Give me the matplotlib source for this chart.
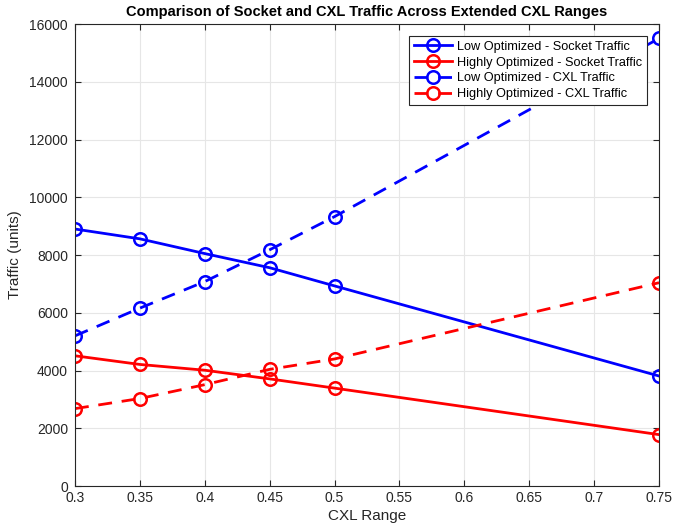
import matplotlib
matplotlib.use("Agg")
import matplotlib.pyplot as plt
import numpy as np

plt.rcParams['font.family'] = ['Liberation Sans', 'DejaVu Sans']

cxl_range = [0.3, 0.35, 0.4, 0.45, 0.5, 0.75]
low_socket = [8900, 8560, 8050, 7560, 6930, 3810]
high_socket = [4510, 4210, 4010, 3710, 3390, 1780]
low_cxl = [5200, 6160, 7080, 8180, 9330, 15500]
high_cxl = [2680, 3030, 3510, 4040, 4400, 7040]

x_ticks = [0.3, 0.35, 0.4, 0.45, 0.5, 0.55, 0.6, 0.65, 0.7, 0.75]
x_tick_labels = ['0.3', '0.35', '0.4', '0.45', '0.5', '0.55', '0.6', '0.65', '0.7', '0.75']
y_ticks = list(range(0, 16001, 2000))

fig = plt.figure(figsize=(6.73, 5.30), dpi=100)
ax = fig.add_axes([0.1114, 0.083, 0.8678, 0.8717])

kw = dict(linewidth=2, marker='o', markersize=9, markerfacecolor='none', markeredgewidth=1.8)
ax.plot(cxl_range, low_socket, '-', color='#0000ff', label='Low Optimized - Socket Traffic', **kw)
ax.plot(cxl_range, high_socket, '-', color='#ff0000', label='Highly Optimized - Socket Traffic', **kw)
ax.plot(cxl_range, low_cxl, '--', color='#0000ff', label='Low Optimized - CXL Traffic', dashes=(5, 3.5), **kw)
ax.plot(cxl_range, high_cxl, '--', color='#ff0000', label='Highly Optimized - CXL Traffic', dashes=(5, 3.5), **kw)

ax.set_xlim(0.3, 0.75)
ax.set_ylim(0, 16000)
ax.set_xticks(x_ticks)
ax.set_xticklabels(x_tick_labels)
ax.set_yticks(y_ticks)
ax.tick_params(direction='in', labelsize=10, colors='#262626', length=4, top=True, right=True)
ax.tick_params(labeltop=False, labelright=False)
ax.tick_params(axis='y', pad=5)
for s in ax.spines.values():
    s.set_color('#262626')
    s.set_linewidth(0.8)
ax.grid(True, color='#e6e6e6', linewidth=0.8)
ax.set_axisbelow(True)

ax.set_xlabel('CXL Range', fontsize=11, color='#262626', labelpad=3)
ax.set_ylabel('Traffic (units)', fontsize=11, color='#262626', labelpad=5)
ax.set_title('Comparison of Socket and CXL Traffic Across Extended CXL Ranges', fontsize=10.5, fontweight='bold', pad=6)

leg = ax.legend(loc='upper right', bbox_to_anchor=(0.98, 0.975), fontsize=9.2, fancybox=False,
                edgecolor='#262626', framealpha=1, borderpad=0.4, labelspacing=0.3,
                handlelength=3.0, handletextpad=0.4, borderaxespad=0)
leg.get_frame().set_linewidth(0.8)

fig.savefig('out.png', dpi=100)
